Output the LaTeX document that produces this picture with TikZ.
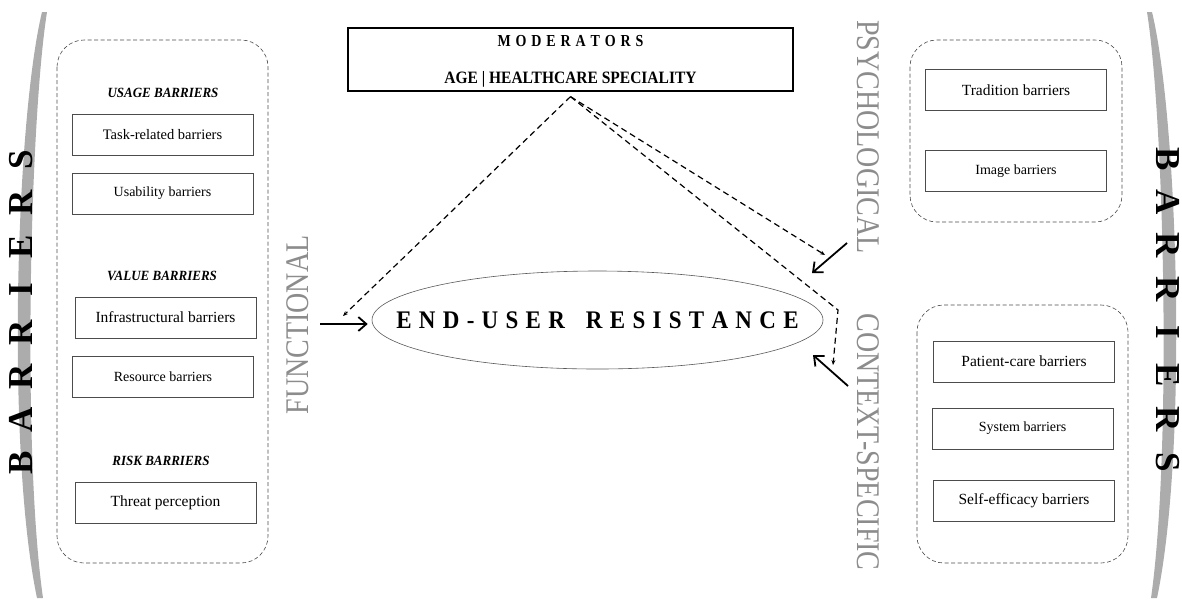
\documentclass[tikz,border=0pt]{standalone}
\usepackage{fontspec}
\setmainfont{Liberation Serif}
\usetikzlibrary{shapes.geometric,arrows.meta}
\definecolor{bargray}{RGB}{172,172,172}
\definecolor{labelgray}{RGB}{140,140,140}
\makeatletter
\newcommand\spreadtext[2]{\@tfor\sp@ch:=#2\do{\sp@ch\hspace{#1}}\unskip}
\makeatother
\newcommand\barrierarc{\fill[bargray] (42,12) .. controls (16,120) and (6,450) .. (37,598) -- (43,598) .. controls (22,450) and (30,120) .. (47,12) -- cycle;}
\tikzset{
  barbox/.style={draw=black!70, line width=0.6pt, minimum width=181pt, minimum height=41pt, inner sep=0pt, font=\fontsize{14}{16}\selectfont},
  bigtext/.style={font=\fontsize{15.5}{17}\selectfont},
  group/.style={draw=black!70, line width=0.6pt, dash pattern=on 4pt off 2.5pt, rounded corners=27pt},
  heading/.style={font=\bfseries\itshape\fontsize{13}{15}\selectfont, yscale=1.08},
  sidelabel/.style={text=labelgray, font=\fontsize{28}{30}\selectfont, inner sep=0pt, xscale=1.18},
  bigletter/.style={font=\bfseries\fontsize{35}{36}\selectfont, inner sep=0pt},
  modline/.style={dash pattern=on 6pt off 4pt, line width=1.2pt, -{Stealth[length=5pt,width=4pt]}},
  pusharrow/.style={line width=1.8pt, -{Straight Barb[length=8pt,width=14pt]}},
}

\begin{document}
\begin{tikzpicture}[x=1pt,y=-1pt]
  \useasboundingbox (0,0) rectangle (1182,603);
  \barrierarc
  \begin{scope}[shift={(1194,0)},xscale=-1] \barrierarc \end{scope}
  \foreach \ltr [count=\k] in {B,A,R,R,I,E,R,S} {
    \node[bigletter,rotate=90] (bl\k) at (21,{463-43.3*(\k-1)}) {\ltr};
    \node[bigletter,rotate=-90] (br\k) at (1168,{159+43.3*(\k-1)}) {\ltr};
  }
  % functional side
  \draw[group] (57,40) rectangle (268,563);
  \node[heading] (usage) at (163,93) {USAGE BARRIERS};
  \node[barbox,font=\fontsize{14.5}{16}\selectfont] (task) at (162.5,134.5) {Task-related barriers};
  \node[barbox] (usab) at (162.5,193.5) {Usability barriers};
  \node[heading] (value) at (162,276) {VALUE BARRIERS};
  \node[barbox,bigtext] (infra) at (165.5,317.5) {Infrastructural barriers};
  \node[barbox] (resource) at (163,377) {Resource barriers};
  \node[heading] (risk) at (161,461) {RISK BARRIERS};
  \node[barbox,bigtext] (threat) at (165.5,502.5) {Threat perception};
  % psychological and context-specific side
  \draw[group] (910,40) rectangle (1122,222);
  \node[barbox,bigtext] (tradition) at (1016,90) {Tradition barriers};
  \node[barbox] (image) at (1016,171) {Image barriers};
  \draw[group] (917,305) rectangle (1128,563);
  \node[barbox,bigtext] (patient) at (1024,361.5) {Patient-care barriers};
  \node[barbox] (system) at (1022.5,428.5) {System barriers};
  \node[barbox,bigtext] (selfeff) at (1024,501) {Self-efficacy barriers};
  \node[sidelabel,rotate=90] (fn) at (298,325) {FUNCTIONAL};
  \node[sidelabel,rotate=-90] (psy) at (868,137) {PSYCHOLOGICAL};
  \node[sidelabel,rotate=-90] (ctx) at (868,442) {CONTEXT-SPECIFIC};
  % moderators
  \node[draw,line width=1.3pt,minimum width=445pt,minimum height=63pt] (mod) at (570.5,59.5) {};
  \node[font=\bfseries\fontsize{14}{16}\selectfont,yscale=1.2] (modtitle) at (570.5,41) {\spreadtext{4.9pt}{MODERATORS}};
  \node[font=\bfseries\fontsize{15.5}{17}\selectfont,yscale=1.12] (modlist) at (570.5,79) {AGE | HEALTHCARE SPECIALITY};
  % resistance
  \node[ellipse,draw=black!65,line width=0.6pt,minimum width=451pt,minimum height=98pt,inner sep=0pt] (eur) at (597.5,320) {};
  \node[font=\bfseries\fontsize{23}{25}\selectfont,yscale=1.1] (eurtext) at (eur.center) {\spreadtext{7.3pt}{END-USER}\hspace{21pt}\spreadtext{7.3pt}{RESISTANCE}};
  \coordinate (fa) at (320,324);
  \draw[pusharrow,shorten >=4pt] (fa) -- (fa -| eur.west);
  \coordinate (pa) at (847,243);
  \coordinate (pt) at (812,273);
  \draw[pusharrow] (pa) -- (pt);
  \coordinate (ca) at (848,386);
  \coordinate (ct) at (813,355);
  \draw[pusharrow] (ca) -- (ct);
  \coordinate (apex) at ([yshift=-5pt]mod.south);
  \coordinate (ftip) at (343,316);
  \coordinate (ptip) at (825,255);
  \coordinate (cbend) at (838,310);
  \coordinate (ctip) at (833,365);
  \draw[modline] (apex) -- (ftip);
  \draw[modline] (apex) -- (ptip);
  \draw[modline] (apex) -- (cbend) -- (ctip);
\end{tikzpicture}
\end{document}
